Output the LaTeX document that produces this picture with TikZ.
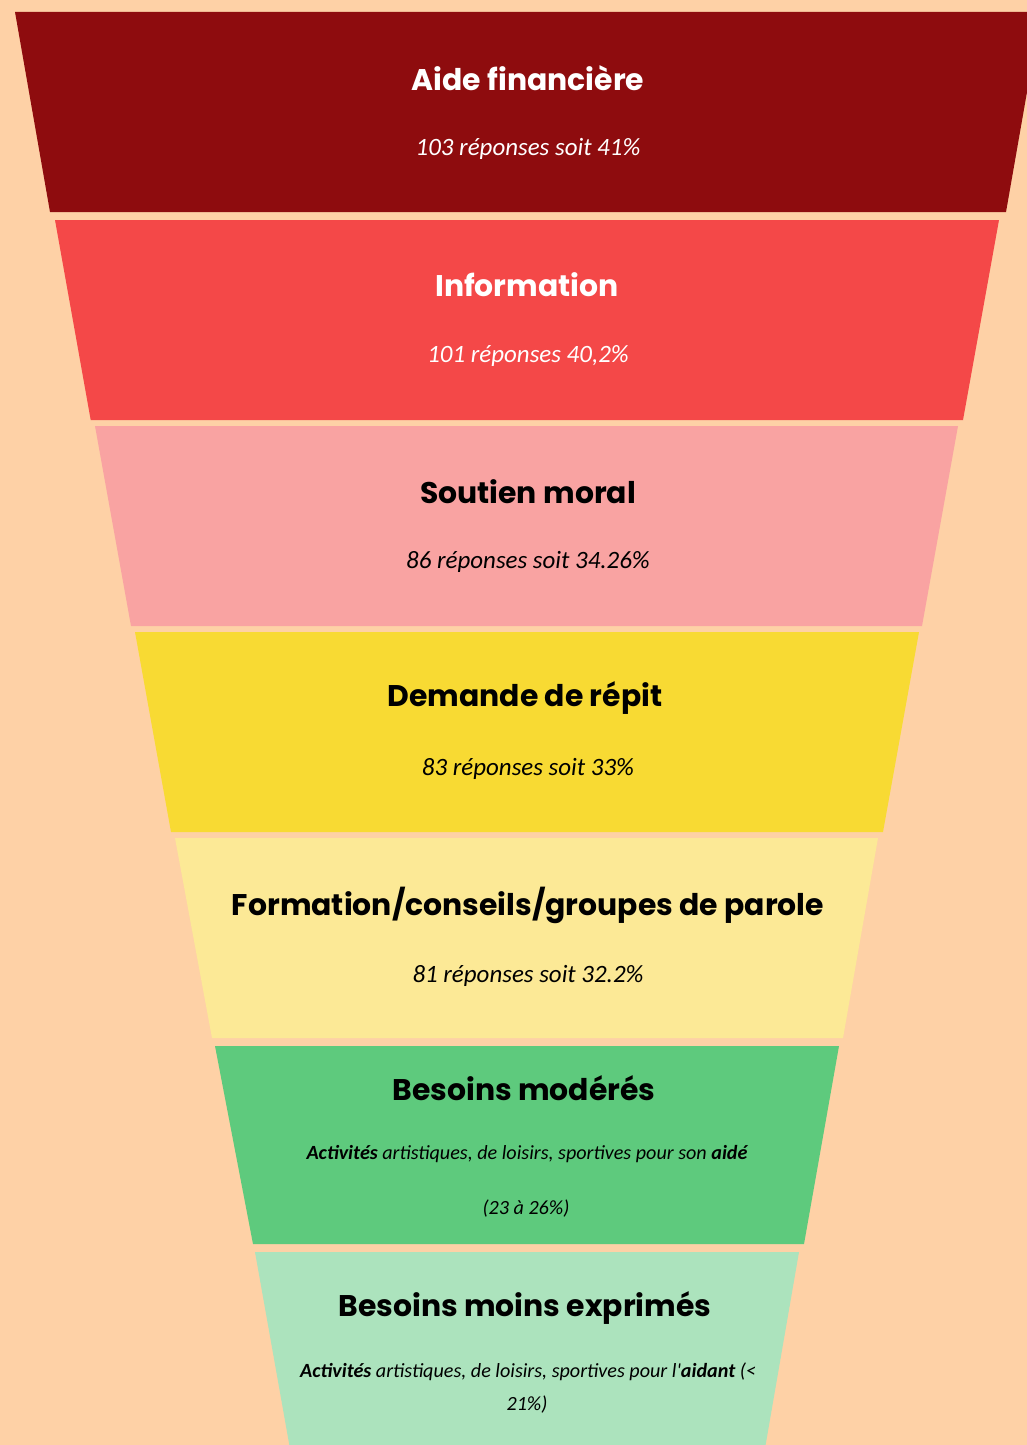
\documentclass[tikz,border=0pt]{standalone}
\usepackage{fontspec}
\newfontfamily\titlefont{Poppins}
\newfontfamily\subfont{Carlito}
\definecolor{bgc}{HTML}{FED1A6}
\definecolor{cA}{HTML}{8E0C0E}
\definecolor{cB}{HTML}{F44848}
\definecolor{cC}{HTML}{F9A3A2}
\definecolor{cD}{HTML}{F8DA33}
\definecolor{cE}{HTML}{FCE996}
\definecolor{cF}{HTML}{5ECA7D}
\definecolor{cG}{HTML}{ACE3BD}
\tikzset{
  ttl/.style={font=\titlefont\bfseries\fontsize{22.4}{27}\selectfont, inner sep=0pt, anchor=center},
  sub/.style={font=\subfont\itshape\fontsize{18.7}{22}\selectfont, inner sep=0pt, anchor=center},
  smallsub/.style={font=\subfont\itshape\fontsize{15.1}{18}\selectfont, inner sep=0pt, anchor=center},
}
\begin{document}
\begin{tikzpicture}[x=0.75pt,y=-0.75pt]
\useasboundingbox (0,0) rectangle (1027,1445);
\clip (0,0) rectangle (1027,1445);
\fill[bgc] (0,0) rectangle (1027,1445);
% bands
\fill[cA] (15,12) -- (1041,12) -- (1006,212) -- (50,212) -- cycle;
\fill[cB] (55,220) -- (999,220) -- (963,420) -- (90.7,420) -- cycle;
\fill[cC] (95,426) -- (958,426) -- (922,626) -- (131,626) -- cycle;
\fill[cD] (135,632) -- (919,632) -- (883,832) -- (171,832) -- cycle;
\fill[cE] (175,838) -- (878,838) -- (843,1038) -- (212,1038) -- cycle;
\fill[cF] (215,1046) -- (839,1046) -- (804,1244) -- (253,1244) -- cycle;
\fill[cG] (255,1252) -- (799,1252) -- (763,1460) -- (292,1460) -- cycle;
% texts
\node[ttl, text=white] (t1) at (528,78) {Aide financière};
\node[sub, text=white] (s1) at (528,149) {103 réponses soit 41\%};
\node[ttl, text=white] (t2) at (527,285) {Information};
\node[sub, text=white] (s2) at (528,356) {101 réponses 40,2\%};
\node[ttl] (t3) at (528,492) {Soutien moral};
\node[sub] (s3) at (528,562) {86 réponses soit 34.26\%};
\node[ttl] (t4) at (525,698) {Demande de répit};
\node[sub] (s4) at (528,769) {83 réponses soit 33\%};
\node[ttl] (t5) at (528,905) {Formation/conseils/groupes de parole};
\node[sub] (s5) at (528,976) {81 réponses soit 32.2\%};
\node[ttl] (t6) at (524,1088) {Besoins modérés};
\node[smallsub] (s6a) at (527,1154) {\textbf{Activités} artistiques, de loisirs, sportives pour son \textbf{aidé}};
\node[smallsub] (s6b) at (526,1209) {(23 à 26\%)};
\node[ttl] (t7) at (525,1308) {Besoins moins exprimés};
\node[smallsub] (s7a) at (528,1372) {\textbf{Activités} artistiques, de loisirs, sportives pour l'\textbf{aidant} (<};
\node[smallsub] (s7b) at (527,1405) {21\%)};
\end{tikzpicture}
\end{document}
